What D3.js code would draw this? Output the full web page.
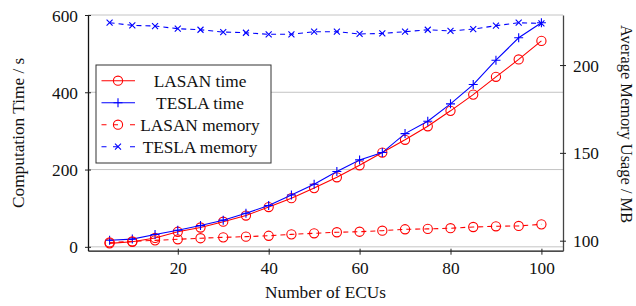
<!DOCTYPE html>
<html>
<head>
<meta charset="utf-8">
<script src="https://cdn.jsdelivr.net/npm/d3@7"></script>
<style>
  body { margin: 0; background: white; }
  svg text { font-family: 'Liberation Serif', 'Times New Roman', serif; font-size: 17.3px; fill: #111; }
</style>
</head>
<body>
<div id="chart"></div>
<script>
// dades
let ecus = [5, 10, 15, 20, 25, 30, 35, 40, 45, 50, 55, 60, 65, 70, 75, 80, 85, 90, 95, 100]
let lasanTime = [9, 13, 23, 39, 50, 65, 81, 103, 126, 152, 180, 211, 244, 277, 312, 352, 394, 440, 485, 533]
let teslaTime = [17, 20, 32, 43, 55, 69, 87, 107, 134, 162, 195, 225, 244, 293, 325, 370, 420, 483, 541, 580]
let lasanMem = [99, 99.6, 100.2, 100.8, 101.4, 101.9, 102.3, 102.8, 103.6, 104.2, 104.8, 105.1, 105.7, 106.5, 106.7, 107.1, 107.8, 108.2, 108.4, 109.3]
let teslaMem = [224.1, 222.6, 222.2, 220.7, 220.1, 218.8, 218.4, 217.5, 217.5, 219, 219, 217.7, 218, 219, 220.1, 219.4, 220.5, 222.4, 224.1, 223.7]
let xTicks = [20, 40, 60, 80, 100]
let yLeftTicks = [0, 200, 400, 600]
let yRightTicks = [100, 150, 200]
let legendNoms = ['LASAN time', 'TESLA time', 'LASAN memory', 'TESLA memory']

// mides
let ample = 636
let alt = 306
let esq = 88
let dre = 563
let dalt = 15
let baix = 250.7

let svg = d3.select('#chart')
  .append('svg')
  .attr('width', ample)
  .attr('height', alt)

let x = d3.scaleLinear().domain([0.25, 104.75]).range([esq, dre])
let yL = d3.scaleLinear().domain([-10, 600]).range([baix, dalt])
let yR = d3.scaleLinear().domain([94.3, 228.5]).range([baix, dalt])

// graella
svg.selectAll('.grid')
  .data(yLeftTicks)
  .enter()
  .append('line')
  .attr('x1', esq)
  .attr('x2', dre)
  .attr('y1', d => yL(d))
  .attr('y2', d => yL(d))
  .attr('stroke', '#c4c4c4')
  .attr('stroke-width', 1)

// eixos
let axX = svg.append('g')
  .attr('transform', `translate(0,${baix})`)
  .call(d3.axisBottom(x).tickValues(xTicks).tickSize(4).tickSizeOuter(0).tickPadding(5))
let axL = svg.append('g')
  .attr('transform', `translate(${esq},0)`)
  .call(d3.axisLeft(yL).tickValues(yLeftTicks).tickSize(3).tickSizeOuter(0).tickPadding(7))
let axR = svg.append('g')
  .attr('transform', `translate(${dre},0)`)
  .call(d3.axisRight(yR).tickValues(yRightTicks).tickSize(3).tickSizeOuter(0).tickPadding(7))

axL.selectAll('.tick line').attr('x1', 3)
axR.selectAll('.tick line').attr('x1', -3)
axX.selectAll('.tick line').attr('y1', -2)

for (let ax of [axX, axL, axR]) {
  ax.selectAll('text').attr('font-size', null).attr('font-family', null).style('fill', '#111')
  ax.selectAll('line').attr('stroke', '#222')
}
axX.select('.domain').attr('stroke', '#111').attr('stroke-width', 1.3)
axL.select('.domain').attr('stroke', '#111').attr('stroke-width', 1.3)
axR.select('.domain').attr('stroke', '#444').attr('stroke-width', 1.3)
axX.selectAll('text').attr('dy', '0.85em')
axL.selectAll('text').attr('dy', '0.35em')
axR.selectAll('text').attr('dy', '0.35em')

// títols dels eixos
svg.append('text')
  .attr('x', (esq + dre) / 2)
  .attr('y', 298)
  .attr('text-anchor', 'middle')
  .text('Number of ECUs')
svg.append('text')
  .attr('transform', `translate(23.5,${(dalt + baix) / 2}) rotate(-90)`)
  .attr('text-anchor', 'middle')
  .text('Computation Time / s')
svg.append('text')
  .attr('transform', `translate(621,124) rotate(90)`)
  .attr('text-anchor', 'middle')
  .style('font-size', '16.4px')
  .text('Average Memory Usage / MB')

// sèries
let series = [
  { vals: lasanTime, y: yL, color: '#ff0000', dash: null, marca: 'o' },
  { vals: teslaTime, y: yL, color: '#0000ff', dash: null, marca: '+' },
  { vals: lasanMem, y: yR, color: '#ff0000', dash: '5,4', marca: 'o' },
  { vals: teslaMem, y: yR, color: '#0000ff', dash: '5,4', marca: 'x' }
]

function dibuixaMarca(g, marca, color) {
  if (marca === 'o') {
    g.append('circle').attr('r', 4.6).attr('fill', 'none').attr('stroke', color).attr('stroke-width', 1.1)
  } else if (marca === '+') {
    g.append('path').attr('d', 'M-4.5,0H4.5M0,-4.5V4.5').attr('stroke', color).attr('stroke-width', 1.1)
  } else {
    g.append('path').attr('d', 'M-3,-3L3,3M-3,3L3,-3').attr('stroke', color).attr('stroke-width', 1.1)
  }
}

series.forEach(s => {
  let linia = d3.line()
    .x((d, i) => x(ecus[i]))
    .y(d => s.y(d))
  svg.append('path')
    .datum(s.vals)
    .attr('d', linia)
    .attr('fill', 'none')
    .attr('stroke', s.color)
    .attr('stroke-width', 1.1)
    .attr('stroke-dasharray', s.dash)
  s.vals.forEach((d, i) => {
    let g = svg.append('g').attr('transform', `translate(${x(ecus[i])},${s.y(d)})`)
    dibuixaMarca(g, s.marca, s.color)
  })
})

// llegenda
let lleg = svg.append('g')
lleg.append('rect')
  .attr('x', 96)
  .attr('y', 65)
  .attr('width', 175)
  .attr('height', 98)
  .attr('fill', 'white')
  .attr('stroke', '#333')
  .attr('stroke-width', 1)

series.forEach((s, i) => {
  let yy = 80.7 + i * 22
  lleg.append('line')
    .attr('x1', 101.5)
    .attr('x2', 135)
    .attr('y1', yy)
    .attr('y2', yy)
    .attr('stroke', s.color)
    .attr('stroke-width', 1.1)
    .attr('stroke-dasharray', s.dash ? '5,6.5,5,12' : null)
  let g = lleg.append('g').attr('transform', `translate(118,${yy})`)
  dibuixaMarca(g, s.marca, s.color)
  lleg.append('text')
    .attr('x', 200)
    .attr('y', yy)
    .attr('dy', '0.35em')
    .attr('text-anchor', 'middle')
    .text(legendNoms[i])
})
</script>
</body>
</html>
